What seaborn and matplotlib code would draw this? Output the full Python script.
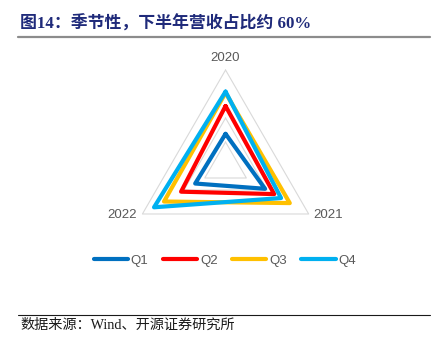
import numpy as np
import pandas as pd
import matplotlib
matplotlib.use('Agg')
import matplotlib.pyplot as plt
import seaborn as sns

# share of annual revenue by quarter (%)
years = ['2020', '2021', '2022']
quarters = ['Q1', 'Q2', 'Q3', 'Q4']
q1 = [13.4, 19.0, 14.6]
q2 = [25.0, 23.4, 21.4]
q3 = [30.5, 30.9, 29.6]
q4 = [31.0, 26.7, 34.4]
grid_levels = [10, 20, 30, 40]
r_max = 40

colors = ['#0070C0', '#FF0000', '#FFC000', '#00B0F0']

sns.set_theme(style='white')
plt.rcParams['font.family'] = ['Liberation Sans', 'Noto Sans CJK SC']

# axis angles: 2020 at top, then clockwise
angles = np.deg2rad([90, -30, 210])

rows = []
for q, vals in zip(quarters, [q1, q2, q3, q4]):
    for i in list(range(len(years))) + [0]:
        r = vals[i] / r_max
        rows.append({'quarter': q, 'order': len(rows),
                     'x': r * np.cos(angles[i]), 'y': r * np.sin(angles[i])})
df = pd.DataFrame(rows)

fig = plt.figure(figsize=(4.34, 3.55), dpi=100)
ax = fig.add_axes([0.2542, 0.2079, 0.531, 0.649])
ax.set_xlim(-1.2, 1.2)
ax.set_ylim(-1.2, 1.2)
ax.set_aspect('equal')
ax.axis('off')

# triangular grid
for lv in grid_levels:
    r = lv / r_max
    gx = [r * np.cos(a) for a in list(angles) + [angles[0]]]
    gy = [r * np.sin(a) for a in list(angles) + [angles[0]]]
    ax.plot(gx, gy, color='#D9D9D9', lw=0.8, zorder=1)

sns.lineplot(data=df, x='x', y='y', hue='quarter', palette=colors,
             sort=False, estimator=None, lw=3.0, ax=ax,
             legend=False, zorder=3)

label_color = '#595959'
ax.annotate(years[0], (np.cos(angles[0]), np.sin(angles[0])),
            xytext=(0, 9), textcoords='offset points',
            ha='center', va='center', fontsize=9.5, color=label_color)
ax.annotate(years[1], (np.cos(angles[1]), np.sin(angles[1])),
            xytext=(3, -1), textcoords='offset points',
            ha='left', va='center', fontsize=9.5, color=label_color)
ax.annotate(years[2], (np.cos(angles[2]), np.sin(angles[2])),
            xytext=(-4, -1), textcoords='offset points',
            ha='right', va='center', fontsize=9.5, color=label_color)

handles = [plt.Line2D([], [], color=c, lw=3.0, solid_capstyle='round') for c in colors]
leg = fig.legend(handles, quarters, loc='center', bbox_to_anchor=(0.518, 0.266),
                 ncol=4, frameon=False, fontsize=9.5, handlelength=2.6,
                 handletextpad=0.2, columnspacing=1.1)
for t in leg.get_texts():
    t.set_color(label_color)

# title and source
fig.text(20 / 434, 1 - 23.5 / 355, '图14：季节性，下半年营收占比约 60%',
         family=['Liberation Serif', 'Noto Sans CJK SC'], fontweight='bold',
         fontsize=12.2, color='#1F2A7A', ha='left', va='center')
fig.add_artist(plt.Line2D([18 / 434, 430 / 434], [1 - 37 / 355] * 2,
                          color='#8C8C8C', lw=1.6))
fig.add_artist(plt.Line2D([18 / 434, 430 / 434], [1 - 314.7 / 355] * 2,
                          color='#1A1A1A', lw=0.8))
fig.text(20 / 434, 1 - 325.5 / 355, '数据来源：Wind、开源证券研究所',
         family=['Liberation Serif', 'Noto Sans CJK SC'],
         fontsize=10.2, color='#1A1A1A', ha='left', va='center')

fig.savefig('out.png', dpi=100)
